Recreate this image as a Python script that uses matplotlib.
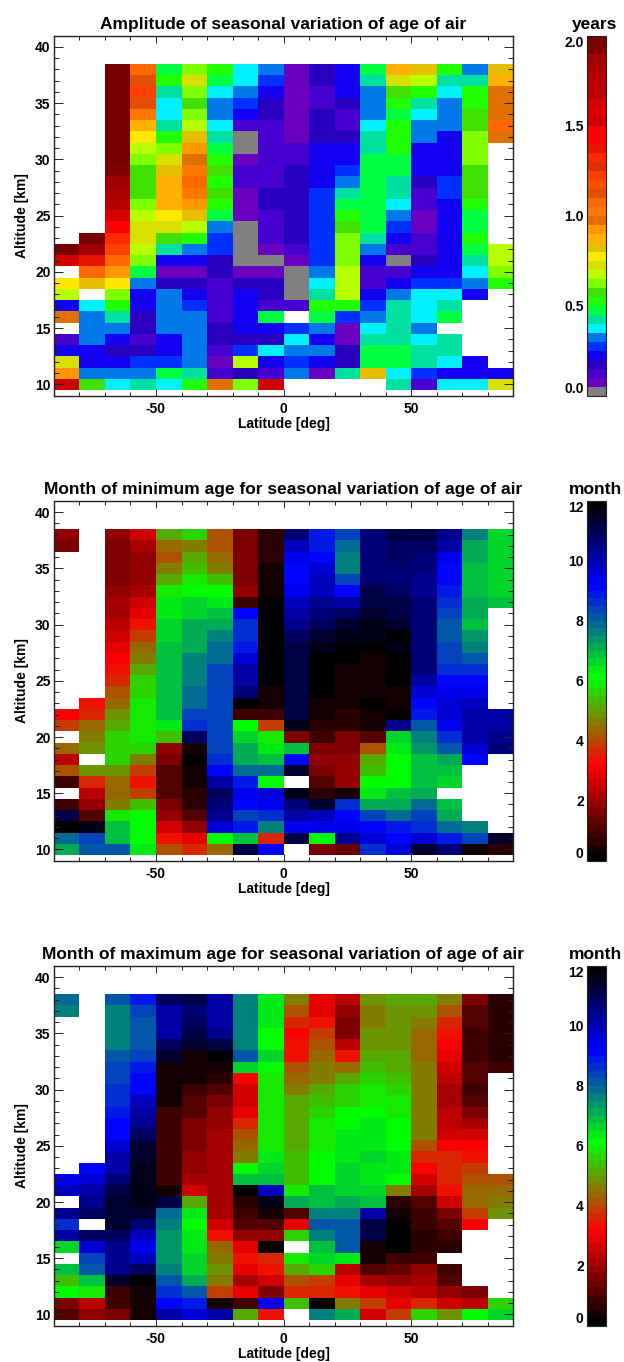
import numpy as np
import matplotlib
matplotlib.use('Agg')
import matplotlib.pyplot as plt
from matplotlib.colors import ListedColormap, LinearSegmentedColormap, Normalize
from matplotlib.ticker import MultipleLocator

plt.rcParams['font.family'] = ['Liberation Sans', 'DejaVu Sans']
plt.rcParams['font.weight'] = 'bold'
plt.rcParams['axes.unicode_minus'] = False

n = np.nan

# latitude bin edges and altitude bin edges, rows below go from top (38 km) down to 10 km
lat_edges = np.arange(-90, 100, 10)
alt_edges = np.arange(38.5, 9, -1)

amplitude = [
    [n, n, 1.97, 1.07, .47, .62, .52, .37, .32, .07, .17, .22, .47, .87, .82, .52, .32, .82],
    [n, n, 1.97, 1.12, .52, .72, .47, .37, .27, .07, .17, .22, .42, .72, .67, .42, .42, .87],
    [n, n, 1.97, 1.22, .42, .62, .37, .32, .22, .07, .12, .22, .32, .57, .52, .37, .52, .97],
    [n, n, 1.97, 1.12, .37, .57, .32, .27, .17, .07, .12, .17, .32, .52, .42, .32, .52, .97],
    [n, n, 1.97, 1.02, .37, .62, .32, .22, .17, .07, .17, .12, .32, .47, .37, .32, .57, .97],
    [n, n, 1.97, .87, .42, .67, .37, .12, .12, .07, .17, .12, .37, .52, .32, .32, .57, 1.07],
    [n, n, 1.97, .77, .52, .82, .42, .02, .12, .07, .17, .17, .42, .52, .32, .22, .62, .97],
    [n, n, 1.97, .67, .62, .92, .47, .02, .12, .12, .22, .22, .42, .52, .22, .22, .62, n],
    [n, n, 1.97, .62, .72, .97, .52, .07, .12, .12, .22, .22, .47, .47, .22, .22, .62, n],
    [n, n, 1.92, .57, .82, 1.02, .57, .12, .12, .17, .22, .27, .47, .47, .22, .22, .57, n],
    [n, n, 1.87, .57, .87, 1.07, .52, .12, .12, .17, .22, .32, .47, .42, .17, .27, .57, n],
    [n, n, 1.82, .57, .87, 1.02, .57, .07, .17, .17, .27, .42, .47, .42, .12, .27, .57, n],
    [n, n, 1.67, .62, .87, .92, .52, .07, .17, .17, .27, .47, .47, .37, .12, .22, .52, n],
    [n, n, 1.62, .67, .77, .82, .47, .07, .12, .17, .27, .52, .47, .32, .07, .22, .47, n],
    [n, n, 1.42, .72, .72, .67, .32, .02, .12, .17, .27, .57, .47, .27, .07, .22, .47, n],
    [n, 1.97, 1.32, .72, .57, .52, .27, .02, .12, .17, .27, .62, .42, .22, .12, .22, .52, n],
    [1.97, 1.87, 1.22, .67, .42, .32, .27, .02, .07, .12, .27, .62, .32, .12, .12, .22, .47, .67],
    [1.62, 1.37, 1.07, .62, .22, .22, .17, .02, .02, .07, .27, .62, .22, .02, .17, .22, .42, .67],
    [n, 1.07, .92, .47, .07, .07, .17, .07, .07, .02, .32, .67, .12, .12, .22, .22, .37, .62],
    [.77, .82, .77, .32, .17, .17, .12, .17, .17, .02, .37, .67, .12, .22, .27, .27, .32, .52],
    [.67, n, .62, .22, .32, .22, .12, .22, .17, .02, .42, .67, .22, .32, .37, .37, .22, n],
    [.22, .37, .52, .22, .32, .27, .12, .22, .12, .12, .52, .52, .27, .42, .37, .42, n, n],
    [.97, .32, .42, .17, .32, .32, .12, .22, .47, n, .47, .27, .32, .42, .37, .47, n, n],
    [n, .32, .32, .17, .32, .32, .17, .22, .22, .27, .32, .07, .37, .42, .32, n, n, n],
    [.12, .32, .22, .12, .22, .32, .17, .17, .17, .37, .22, .07, .42, .42, .37, .42, n, n],
    [.22, .22, .17, .17, .22, .32, .12, .27, .37, .32, .32, .17, .47, .47, .42, .42, n, n],
    [.72, .22, .22, .27, .27, .32, .07, .67, .22, .27, .22, .17, .47, .47, .42, .37, .22, n],
    [.92, .32, .32, .32, .47, .42, .12, .17, .12, .32, .07, .42, .82, .37, .27, .22, .22, .22],
    [1.52, .57, .37, .42, .37, .52, .97, .62, 1.52, n, n, n, n, .42, .12, .37, .37, .72],
]

month_min = [
    [1.9, n, 1.9, 2.5, 5.2, 5.5, 4.1, 1.6, .5, 10.5, 8.9, 8.4, 10.7, 11.0, 11.0, 10.4, 7.6, 6.5],
    [1.6, n, 1.6, 2.0, 4.3, 4.7, 4.1, 1.6, .5, 9.9, 8.9, 7.9, 10.7, 10.8, 10.9, 10.0, 7.1, 6.6],
    [n, n, 1.5, 1.9, 4.1, 5.0, 4.4, 1.6, .5, 9.4, 9.2, 7.6, 10.6, 10.8, 10.5, 9.4, 7.1, 6.6],
    [n, n, 1.6, 1.8, 4.6, 5.4, 4.7, 1.6, .35, 9.2, 9.7, 7.6, 10.6, 10.7, 10.5, 9.2, 6.8, 6.6],
    [n, n, 1.6, 1.8, 5.1, 5.8, 5.3, 1.6, .35, 9.2, 9.9, 8.4, 10.6, 10.7, 10.4, 9.2, 6.8, 6.6],
    [n, n, 1.8, 2.1, 5.8, 6.2, 6.1, 1.8, .45, 9.3, 9.9, 9.0, 11.0, 10.9, 10.4, 8.8, 6.9, 6.6],
    [n, n, 2.1, 2.5, 6.3, 6.7, 6.3, .8, .02, 9.9, 10.4, 10.2, 11.2, 11.1, 10.5, 8.5, 7.2, 6.9],
    [n, n, 2.1, 2.8, 6.3, 6.7, 6.9, 9.2, 11.8, 10.1, 10.6, 10.9, 11.4, 11.2, 10.5, 8.3, 7.2, n],
    [n, n, 2.4, 3.4, 6.6, 7.0, 7.2, 8.6, 11.8, 10.3, 10.9, 11.4, 11.6, 11.4, 10.5, 8.1, 6.9, n],
    [n, n, 2.5, 3.9, 6.6, 7.2, 7.6, 8.6, 11.8, 10.8, 11.3, 11.6, 11.7, 11.8, 10.5, 8.1, 7.4, n],
    [n, n, 2.8, 4.3, 6.9, 7.1, 7.9, 8.9, 11.8, 11.0, 11.6, .05, .05, 11.7, 10.5, 8.4, 7.6, n],
    [n, n, 3.15, 4.7, 6.9, 7.6, 7.9, 9.5, 11.8, 11.0, 11.8, .05, .25, .05, 10.5, 8.4, 8.1, n],
    [n, n, 3.3, 5.2, 6.9, 7.6, 8.3, 10.0, 11.8, 11.0, 11.8, .25, .25, .05, 10.5, 8.7, 8.6, n],
    [n, n, 3.5, 5.6, 6.9, 7.6, 8.3, 10.2, 11.8, 11.0, 11.8, .25, .25, .05, 10.0, 9.2, 9.2, n],
    [n, n, 4.0, 5.7, 6.9, 7.9, 8.3, 10.6, .25, 11.0, .02, .25, .4, .25, 9.5, 9.4, 9.3, n],
    [n, 3.4, 4.4, 5.9, 6.9, 7.9, 8.3, .02, .4, 11.1, .25, .45, .2, .25, 9.2, 9.5, 9.9, n],
    [3.15, 3.6, 4.8, 5.9, 6.9, 8.3, 8.3, .9, .9, 11.1, .25, .7, .25, .05, 8.8, 9.5, 10.1, 10.2],
    [3.8, 4.3, 5.2, 5.9, 6.3, 8.7, 8.3, 6.1, 3.8, 11.6, .6, .6, .45, 10.4, 8.2, 9.3, 10.1, 10.2],
    [n, 4.6, 5.5, 5.9, 5.4, 10.9, 8.3, 6.5, 5.9, 1.5, .9, 1.5, 1.0, 6.6, 7.6, 8.7, 10.2, 10.4],
    [4.4, 4.9, 5.5, 5.6, 1.9, .45, 8.3, 7.0, 6.4, 6.9, 1.6, 1.6, 4.1, 6.4, 7.3, 8.0, 9.7, 10.5],
    [2.4, n, 5.5, 4.6, 1.5, .03, 8.7, 7.2, 6.9, 9.0, 1.9, 1.9, 5.1, 6.1, 6.8, 7.2, 9.2, n],
    [4.1, 4.9, 4.9, 3.8, 1.2, .25, 9.2, 7.9, 7.9, 11.4, 1.6, 1.9, 5.4, 6.1, 6.8, 6.8, n, n],
    [.75, 3.6, 4.4, 3.3, 1.2, .45, 10.1, 8.9, 6.1, n, 1.0, 1.9, 6.0, 6.0, 6.8, 6.5, n, n],
    [n, 2.3, 4.4, 3.8, 1.2, .6, 10.9, 9.4, 9.6, 11.7, .6, .4, 6.3, 6.9, 7.2, n, n, n],
    [.8, 1.9, 4.6, 5.3, 1.5, .6, 10.6, 9.0, 9.3, 10.7, 11.4, 8.7, 7.2, 7.1, 7.8, 6.8, n, n],
    [11.2, 1.1, 5.8, 6.1, 1.9, 1.2, 10.4, 8.3, 8.6, 10.0, 9.8, 9.0, 8.3, 7.9, 8.3, 7.0, n, n],
    [.05, 11.6, 6.8, 6.1, 2.5, 1.8, 9.7, 8.9, 7.6, 9.4, 9.4, 9.3, 9.0, 8.8, 8.5, 7.8, 7.6, n],
    [7.9, 8.4, 6.8, 6.1, 3.3, 2.8, 6.1, 6.8, 3.6, 11.0, 6.1, 10.4, 9.7, 9.0, 9.5, 8.8, 8.4, 11.3],
    [7.2, 8.0, 8.0, 6.4, 4.1, 3.6, 4.4, 11.0, 9.2, n, 1.6, 1.3, 8.7, 9.7, 11.3, 10.6, .25, .6],
]

month_max = [
    [7.9, n, 8.0, 8.8, 10.9, 11.2, 10.0, 7.6, 6.4, 4.7, 2.8, 2.3, 4.9, 5.2, 5.2, 4.7, 1.5, .55],
    [7.6, n, 7.6, 8.3, 10.2, 10.7, 10.0, 7.6, 6.4, 4.1, 2.8, 1.8, 4.7, 4.9, 4.9, 4.1, 1.1, .5],
    [n, n, 7.6, 8.0, 10.0, 10.9, 10.1, 7.6, 6.4, 3.6, 3.3, 1.5, 4.7, 4.9, 4.6, 3.6, 1.1, .5],
    [n, n, 7.6, 8.1, 10.2, 11.0, 10.3, 7.6, 6.1, 3.15, 3.8, 1.5, 4.9, 4.9, 4.4, 3.4, .9, .5],
    [n, n, 7.6, 8.1, 10.9, 11.4, 11.0, 7.6, 6.1, 3.4, 4.0, 2.3, 4.9, 4.9, 4.4, 3.15, .9, .5],
    [n, n, 8.0, 8.3, 11.4, .25, .05, 8.0, 6.5, 3.4, 4.3, 3.3, 5.2, 5.2, 4.4, 2.8, .9, .5],
    [n, n, 8.3, 8.8, .25, .4, .25, 6.5, 6.1, 4.1, 4.6, 4.3, 5.4, 5.2, 4.6, 2.6, 1.0, .8],
    [n, n, 8.3, 9.0, .25, .4, .7, 3.15, 5.9, 4.3, 4.7, 5.0, 5.7, 5.4, 4.6, 2.4, 1.0, n],
    [n, n, 8.6, 9.2, .35, .9, 1.2, 2.6, 5.9, 4.7, 5.1, 5.6, 5.9, 5.6, 4.6, 2.1, .9, n],
    [n, n, 8.7, 9.8, .35, 1.2, 1.5, 2.6, 5.9, 5.1, 5.4, 5.6, 5.9, 5.9, 4.6, 2.1, 1.2, n],
    [n, n, 8.9, 10.2, .8, 1.2, 1.8, 2.8, 5.9, 5.1, 5.6, 6.1, 6.1, 5.9, 4.6, 2.4, 1.5, n],
    [n, n, 9.2, 10.4, .9, 1.5, 1.8, 3.6, 5.9, 5.1, 5.9, 6.1, 6.3, 6.1, 4.6, 2.4, 2.0, n],
    [n, n, 9.2, 10.9, .9, 1.5, 2.1, 4.1, 5.9, 5.1, 5.9, 6.3, 6.3, 6.1, 4.6, 2.6, 2.5, n],
    [n, n, 9.5, 11.3, .9, 1.5, 2.1, 4.4, 5.9, 5.1, 5.9, 6.3, 6.3, 6.1, 4.0, 3.15, 3.15, n],
    [n, n, 10.0, 11.4, .9, 1.8, 2.1, 4.7, 6.3, 5.4, 6.1, 6.3, 6.6, 6.3, 3.6, 3.6, 3.4, n],
    [n, 9.2, 10.2, 11.7, .9, 1.8, 2.1, 6.1, 6.6, 5.4, 6.2, 6.6, 6.3, 6.3, 3.15, 3.6, 3.8, n],
    [9.3, 9.6, 10.7, 11.7, .9, 2.0, 2.1, 6.9, 6.9, 5.4, 6.2, 6.6, 6.3, 6.1, 2.6, 3.6, 4.0, 4.0],
    [9.8, 10.2, 11.0, 11.7, .4, 2.5, 2.1, .02, 9.9, 5.8, 6.8, 6.6, 6.5, 4.6, 2.1, 3.4, 4.3, 4.3],
    [n, 10.4, 11.4, 11.6, 11.0, 5.2, 2.1, .55, 11.5, 7.2, 6.9, 7.2, 6.8, .5, 1.2, 2.6, 4.4, 4.7],
    [10.3, 10.8, 11.3, 11.3, 7.9, 6.4, 2.0, .8, .4, 1.1, 7.7, 7.7, 10.0, .35, .9, 1.7, 3.8, 4.9],
    [8.5, n, 11.3, 10.6, 7.6, 6.1, 2.6, 1.2, 1.0, 2.9, 8.0, 8.0, 11.0, .1, .8, 1.2, 3.15, n],
    [10.1, 10.8, 10.9, 9.9, 7.3, 6.3, 3.3, 1.8, 1.9, 5.7, 7.6, 8.0, 11.2, .15, .7, .8, n, n],
    [6.6, 9.5, 10.3, 9.3, 7.3, 6.4, 4.3, 2.8, .02, n, 6.9, 8.0, .25, .15, .7, .5, n, n],
    [n, 8.4, 10.3, 9.9, 7.3, 6.7, 4.7, 3.4, 3.6, 5.8, 6.7, 6.4, .4, .8, .9, n, n, n],
    [6.9, 8.0, 10.4, 10.9, 7.6, 6.7, 4.9, 2.8, 3.3, 5.1, 5.6, 2.4, 1.2, 1.3, 1.8, .9, n, n],
    [5.4, 6.9, 11.4, .02, 8.0, 7.2, 4.6, 2.0, 2.5, 4.1, 3.8, 2.8, 2.0, 1.9, 2.0, 1.2, n, n],
    [6.1, 5.9, .9, .25, 8.7, 8.0, 3.8, 2.8, 1.5, 3.6, 3.6, 3.4, 2.8, 2.5, 2.4, 1.8, 1.6, n],
    [1.7, 2.3, .9, .25, 9.2, 8.9, .25, .9, 9.4, 5.4, .02, 4.7, 3.8, 2.8, 3.6, 2.5, 2.3, 5.6],
    [1.1, 1.8, 1.7, .35, 10.0, 9.5, 10.1, 5.2, 3.3, n, 7.6, 7.2, 2.5, 3.8, 5.7, 4.9, 6.2, 6.5],
]

titles = ['Amplitude of seasonal variation of age of air',
          'Month of minimum age for seasonal variation of age of air',
          'Month of maximum age for seasonal variation of age of air']
units = ['years', 'month', 'month']
lat_ticks = [-50, 0, 50]
alt_ticks = [10, 15, 20, 25, 30, 35, 40]
amp_ticks = [0.0, 0.5, 1.0, 1.5, 2.0]
month_ticks = [0, 2, 4, 6, 8, 10, 12]

# colour table of the amplitude panel, one colour per 0.05 years
amp_colors = ['#808080', '#6a00c0', '#4800d0', '#2a00c0', '#1400f0', '#0030ff', '#0078e8',
              '#00f0ff', '#00e0a0', '#00ff40', '#20ff00', '#40e000', '#80ff00', '#b8ff00',
              '#d8e000', '#ffe800', '#e6c000', '#ffb000', '#ff9800', '#e07000', '#ff7800',
              '#ff6800', '#e05000', '#ff5000', '#ff4000', '#e03000', '#ff2800', '#e81400',
              '#ff0000', '#ff0000', '#d00000', '#dc0000', '#d40000', '#b80000', '#bc0000',
              '#b40000', '#aa0000', '#a00000', '#800000', '#780000']
amp_cmap = ListedColormap(amp_colors)
amp_cmap.set_bad('white')

month_cmap = LinearSegmentedColormap.from_list(
    'month', [(0.0, '#000000'), (0.26, '#ff0000'), (0.51, '#00ff00'), (0.77, '#0000ff'), (1.0, '#000000')], N=48)
month_cmap.set_bad('white')

W, H = 624, 1362
fig = plt.figure(figsize=(W / 100, H / 100), dpi=100)


def px_axes(left, top, right, bottom):
    return fig.add_axes([left / W, 1 - bottom / H, (right - left) / W, (bottom - top) / H])


panels = [(35.7, 395.7, amplitude, amp_cmap, 2.0, amp_ticks, '%.1f'),
          (501.0, 860.7, month_min, month_cmap, 12, month_ticks, '%d'),
          (966.0, 1325.7, month_max, month_cmap, 12, month_ticks, '%d')]

edge = '#222222'
for i, (top, bottom, values, cmap, vmax, cticks, fmt) in enumerate(panels):
    ax = px_axes(54, top, 513, bottom)
    mesh = ax.pcolormesh(lat_edges, alt_edges, np.ma.masked_invalid(np.array(values)),
                         cmap=cmap, norm=Normalize(0, vmax))
    ax.set_xlim(-90, 90)
    ax.set_ylim(9, 41)
    ax.set_xticks(lat_ticks)
    ax.set_yticks(alt_ticks)
    ax.xaxis.set_minor_locator(MultipleLocator(10))
    ax.yaxis.set_minor_locator(MultipleLocator(1))
    ax.tick_params(axis='x', which='major', direction='in', top=True, length=5, width=0.7,
                   color=edge, labelsize=10, pad=4.5)
    ax.tick_params(axis='y', which='major', direction='in', right=True, length=6.5, width=0.7,
                   color=edge, labelsize=10, pad=2.5)
    ax.tick_params(axis='x', which='minor', direction='in', top=True, length=2.9, width=0.7, color=edge)
    ax.tick_params(axis='y', which='minor', direction='in', right=True, length=3.4, width=0.7, color=edge)
    for s in ax.spines.values():
        s.set_linewidth(1.0)
        s.set_edgecolor(edge)
    ax.set_title(titles[i], fontsize=12.55, fontweight='bold', pad=5)
    ax.set_xlabel('Latitude [deg]', fontsize=10, fontweight='bold', labelpad=0.5)
    ax.set_ylabel('Altitude [km]', fontsize=10, fontweight='bold', labelpad=4)

    # colour bar, labels on the left, first and last label pulled inside
    cax = px_axes(586.5, top, 605.5, bottom)
    cb = fig.colorbar(mesh, cax=cax, ticks=cticks, format=fmt)
    cax.yaxis.set_ticks_position('left')
    cax.tick_params(length=0, labelsize=10, pad=2)
    cb.outline.set_linewidth(0.8)
    cb.outline.set_edgecolor(edge)
    labels = cax.get_yticklabels()
    labels[0].set_verticalalignment('bottom')
    labels[-1].set_verticalalignment('top')
    cax.set_title(units[i], fontsize=12.55, fontweight='bold', pad=5, x=0.45)

fig.savefig('out.png', dpi=100)
